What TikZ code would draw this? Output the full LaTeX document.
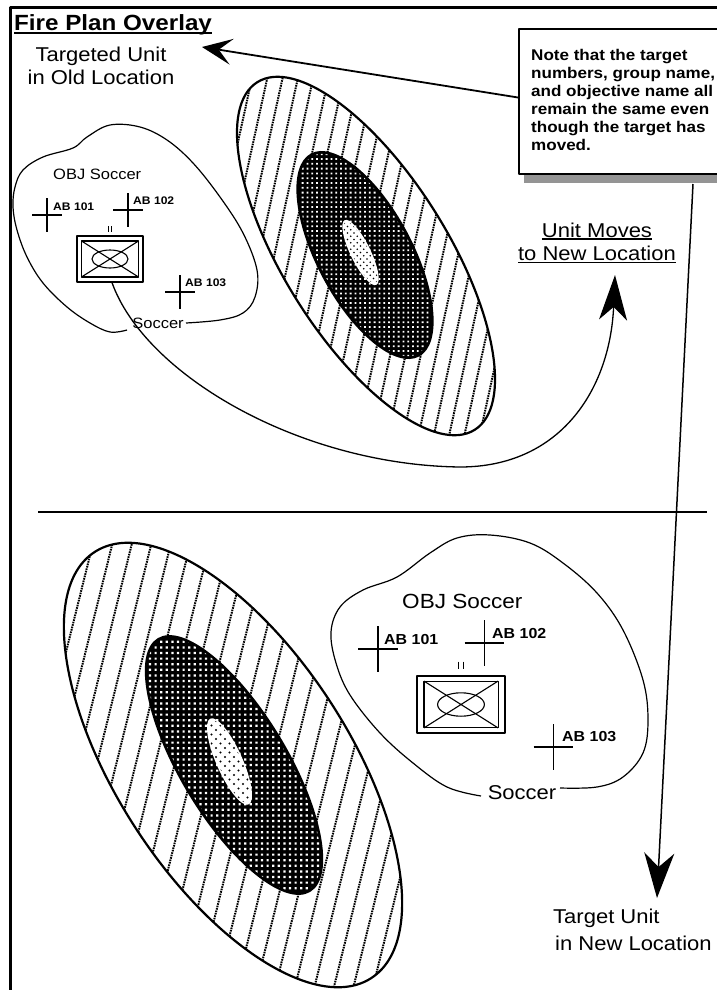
\documentclass[tikz,border=0pt]{standalone}
\usepackage{fontspec}
\setmainfont{Liberation Sans}[FakeStretch=1.1]
\usetikzlibrary{arrows.meta,shadows}
\newsavebox\ulbox
\newcommand{\ulin}[3]{\sbox\ulbox{#3}\rlap{\rule[#1]{\wd\ulbox}{#2}}\usebox\ulbox}
\tikzset{
  frameln/.style={line width=3pt},
  conn/.style={line width=1.5pt},
  blob/.style={line width=1.2pt},
  crossln/.style={line width=1.2pt},
  lbl/.style={inner sep=0pt, font=\fontsize{20}{23.5}\selectfont},
  ablbl/.style={inner sep=0pt, anchor=base west, font=\bfseries\fontsize{11}{13}\selectfont},
  ablblB/.style={inner sep=0pt, anchor=base west, font=\bfseries\fontsize{14.5}{17}\selectfont},
  notebox/.style={draw, line width=2pt, fill=white, inner sep=0pt, anchor=north west,
    drop shadow={shadow xshift=5pt, shadow yshift=-9pt, fill=black!42, opacity=1}},
  unitbox/.style={draw, line width=1.2pt, inner sep=0pt},
  hatch/.style={line width=2pt, dash pattern=on 1.6pt off 0.9pt},
  crossmark/.pic={\draw[crossln] (-15,0)--(15,0) (0,-17)--(0,17);},
  unitinner/.pic={
    \draw[line width=1.1pt] (-28.5,-18) rectangle (28.5,18);
    \draw[line width=1.1pt] (-28.5,-18) -- (28.5,18) (-28.5,18) -- (28.5,-18);
    \draw[line width=1.1pt] (0,0) ellipse [x radius=18, y radius=9];
    \draw[line width=1pt] (-1.6,-33) -- (-1.6,-27) (1.6,-33) -- (1.6,-27);
  }
}
\begin{document}
\begin{tikzpicture}[x=1pt, y=-1pt, line join=round]
\useasboundingbox (0,0) rectangle (717,990);
\fill[white] (0,0) rectangle (717,990);

% frame
\draw[frameln] (10.5,990) -- (10.5,7.5) -- (717,7.5);
\node[anchor=base west, inner sep=0pt, font=\bfseries\fontsize{22}{24}\selectfont] (title) at (14,31) {\ulin{-3.2pt}{2pt}{Fire Plan Overlay}};

% ===== top target ellipses =====
\fill[white, rotate around={-58:(366,256)}] (366,256) ellipse [x radius=205, y radius=82];
\begin{scope}
  \clip[rotate around={-58:(366,256)}] (366,256) ellipse [x radius=205, y radius=82];
  \draw[hatch] \foreach \k in {-16,...,16} { ({366+15.3*\k+46},46) -- ({366+15.3*\k-46},466) };
\end{scope}
\fill[rotate around={-62:(365,255)}] (365,255) ellipse [x radius=115, y radius=48];
\begin{scope}
  \clip[rotate around={-62:(365,255)}] (365,255) ellipse [x radius=112, y radius=45];
  \fill[white] \foreach \i in {-17,...,17} { \foreach \j in {-24,...,24} { ({365+4.8*\i-0.9},{255+4.8*\j-0.9}) rectangle ++(1.8,1.8) } };
\end{scope}
\fill[white, rotate around={-64:(360.5,252.5)}] (360.5,252.5) ellipse [x radius=36, y radius=10];
\begin{scope}
  \clip[rotate around={-64:(360.5,252.5)}] (360.5,252.5) ellipse [x radius=34, y radius=8.5];
  \fill \foreach \i in {-7,...,7} { \foreach \j in {-7,...,7} { ({360.5+6.5*\i},{252.5+6.5*\j}) circle (0.95) ({363.75+6.5*\i},{255.75+6.5*\j}) circle (0.95) } };
\end{scope}
\draw[line width=2.2pt, rotate around={-58:(366,256)}] (366,256) ellipse [x radius=205, y radius=82];

% ===== bottom target ellipses =====
\fill[white, rotate around={-57:(233,765)}] (233,765) ellipse [x radius=254, y radius=116];
\begin{scope}
  \clip[rotate around={-57:(233,765)}] (233,765) ellipse [x radius=254, y radius=116];
  \draw[hatch] \foreach \k in {-16,...,16} { ({233+19.5*\k+62},515) -- ({233+19.5*\k-62},1015) };
\end{scope}
\fill[rotate around={-59:(234,765)}] (234,765) ellipse [x radius=148, y radius=54];
\begin{scope}
  \clip[rotate around={-59:(234,765)}] (234,765) ellipse [x radius=145, y radius=51];
  \fill[white] \foreach \i in {-17,...,17} { \foreach \j in {-25,...,25} { ({234+5.6*\i-1.1},{765+5.6*\j-1.1}) rectangle ++(2.2,2.2) } };
\end{scope}
\fill[white, rotate around={-66:(229.5,761.5)}] (229.5,761.5) ellipse [x radius=47, y radius=13];
\begin{scope}
  \clip[rotate around={-66:(229.5,761.5)}] (229.5,761.5) ellipse [x radius=45, y radius=11.5];
  \fill \foreach \i in {-6,...,6} { \foreach \j in {-6,...,6} { ({229.5+9*\i},{761.5+9*\j}) circle (1.1) ({234+9*\i},{766+9*\j}) circle (1.1) } };
\end{scope}
\draw[line width=2.2pt, rotate around={-57:(233,765)}] (233,765) ellipse [x radius=254, y radius=116];

% ===== top objective =====
\node[anchor=base west, inner sep=0pt, font=\fontsize{15}{18}\selectfont] (objA) at (53,179.5) {OBJ Soccer};
\node[anchor=base, inner sep=0pt, font=\fontsize{15}{18}\selectfont] (socA) at (158,328) {Soccer};
\draw[blob] plot[smooth, tension=0.6] coordinates {(186,323) (220,320) (243,313) (255,297) (257,270) (243,233) (220,197) (193,163) (167,140) (140,127) (110,125) (87,137) (73,148) (43,157) (23,170) (15,187) (13,207) (17,230) (27,257) (43,283) (67,307) (90,323) (110,332) (127,330)};
\pic at (47,215) {crossmark};
\pic at (128,210) {crossmark};
\pic at (180,292) {crossmark};
\node[ablbl] (ab101a) at (53,210) {AB 101};
\node[ablbl] (ab102a) at (133,204.5) {AB 102};
\node[ablbl] (ab103a) at (185,286.5) {AB 103};
\node[unitbox, minimum width=66pt, minimum height=46pt] (unitA) at (110,259) {};
\pic at (110,259) {unitinner};

% ===== bottom objective =====
\node[anchor=base west, inner sep=0pt, font=\fontsize{20.5}{24}\selectfont] (objB) at (402,608) {OBJ Soccer};
\node[anchor=base, inner sep=0pt, font=\fontsize{20}{24}\selectfont] (socB) at (522,799.5) {Soccer};
\draw[blob] plot[smooth, tension=0.6] coordinates {(560,788) (597,787) (623,777) (643,753) (648,720) (643,680) (623,630) (597,593) (563,563) (530,543) (490,535) (457,538) (430,553) (397,577) (363,590) (340,607) (331,632) (336,663) (350,695) (380,733) (413,763) (447,787) (481,796)};
\pic[scale=1.33] at (378,649) {crossmark};
\pic[scale=1.33] at (484.5,643) {crossmark};
\pic[scale=1.33] at (553.5,747) {crossmark};
\node[ablblB] (ab101b) at (384,644) {AB 101};
\node[ablblB] (ab102b) at (492,638) {AB 102};
\node[ablblB] (ab103b) at (562,741) {AB 103};
\node[unitbox, minimum width=88pt, minimum height=57pt] (unitB) at (461,704.5) {};
\pic[scale=1.3] at (461,704.5) {unitinner};

% divider
\draw[line width=2.5pt] (38,512) -- (707,512);

% note box
\node[notebox, minimum width=200pt, minimum height=145pt] (note) at (518,28) {};
\node[inner sep=0pt, anchor=north west, align=left, font=\bfseries\fontsize{15.5}{18}\selectfont] (notetext) at (531,48.7)
  {Note that the target\\numbers, group name,\\and objective name all\\remain the same even\\though the target has\\moved.};

% labels
\node[lbl, align=center, anchor=north] (oldlbl) at (101,46.5) {Targeted Unit\\in Old Location};
\node[lbl, align=center, anchor=north] (movelbl) at (597,222.5) {\ulin{-2.5pt}{1.3pt}{Unit Moves}\\\ulin{-2.5pt}{1.3pt}{to New Location}};
\node[inner sep=0pt, align=left, anchor=north west, font=\fontsize{20}{26.7}\selectfont] (newlbl) at (553,908.7) {Target Unit\\\hspace{2pt}in New Location};

% connectors
\coordinate (oldtip) at (202,47);
\coordinate (movetip) at (615,275);
\coordinate (newtip) at (657,898);
\draw[line width=1.8pt, -{Stealth[length=30pt, width=26pt, inset=13pt]}] ([yshift=4pt]note.west) -- (oldtip);
\draw[conn, -{Stealth[length=45pt, width=30pt, inset=14pt]}] ([xshift=-27pt, yshift=-9pt]note.south east) -- (newtip);
\draw[line width=1.3pt, -{Stealth[length=45pt, width=28pt, inset=13pt]}] ([xshift=2pt]unitA.south) .. controls (145,375) and (300,465) .. (460,467) .. controls (560,467) and (610,390) .. (movetip);
\end{tikzpicture}
\end{document}
